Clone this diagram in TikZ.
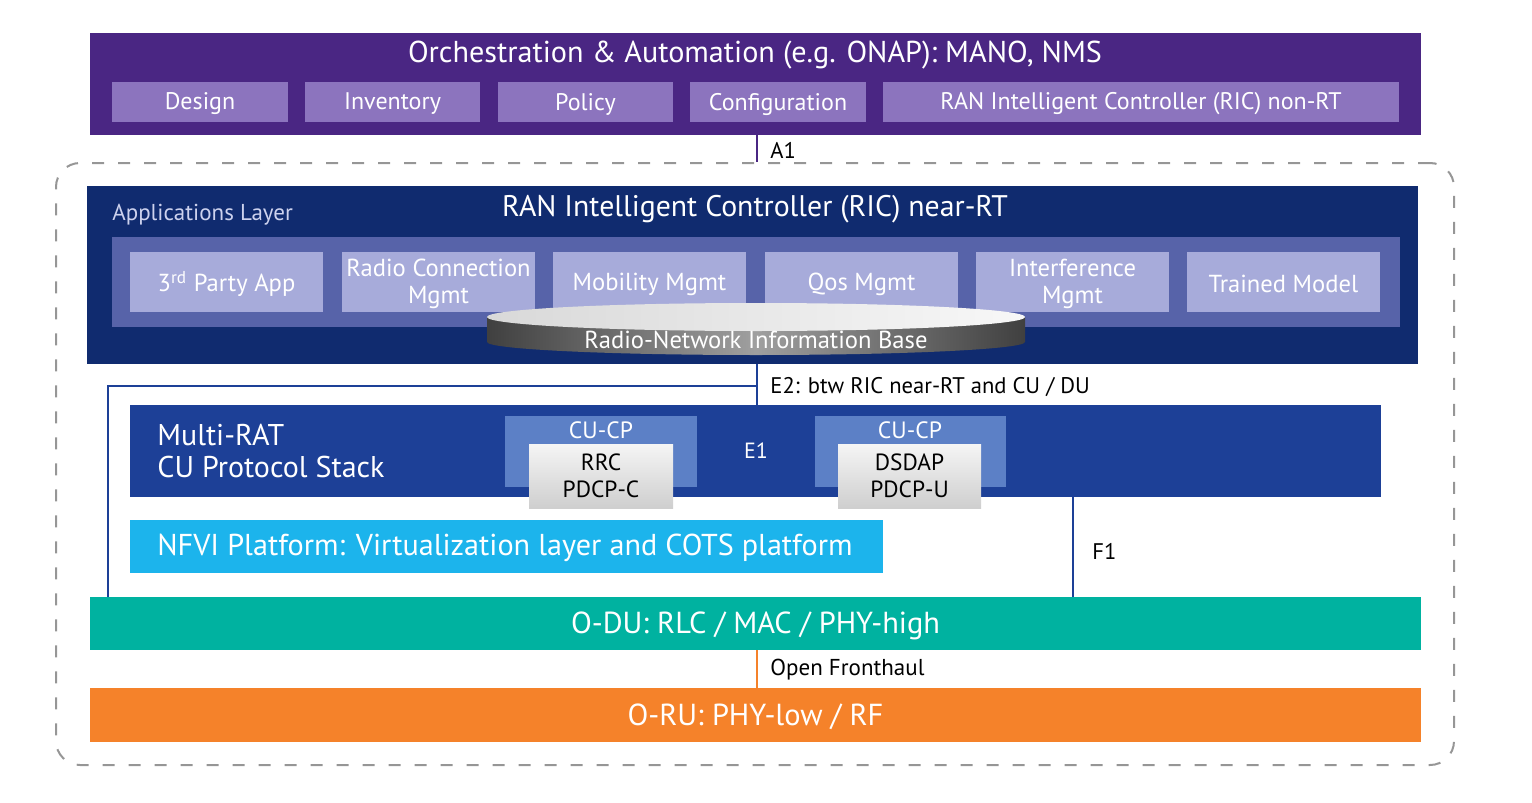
\documentclass[tikz,border=0pt]{standalone}
\usepackage{fontspec}
\setmainfont{PT Sans}
\usepackage{tikz}
\usetikzlibrary{fit,calc}
\definecolor{orchpurple}{RGB}{74,38,131}
\definecolor{orchlight}{RGB}{140,116,190}
\definecolor{ricnavy}{RGB}{16,43,111}
\definecolor{appband}{RGB}{87,99,169}
\definecolor{applight}{RGB}{167,171,218}
\definecolor{appltext}{RGB}{205,210,238}
\definecolor{cublue}{RGB}{29,64,151}
\definecolor{cucpblue}{RGB}{92,128,198}
\definecolor{nfvicyan}{RGB}{28,180,236}
\definecolor{duteal}{RGB}{0,178,160}
\definecolor{ruorange}{RGB}{245,130,42}
\definecolor{dashgray}{RGB}{150,150,150}
\newcommand{\fsz}[1]{\fontsize{#1}{#1}\selectfont}

\begin{document}
\begin{tikzpicture}[x=0.5pt,y=-0.5pt,
  blk/.style={inner sep=0pt, outer sep=0pt},
  txt/.style={inner sep=0pt, text=white, align=center},
  orchitem/.style={blk, fill=orchlight},
  orchtxt/.style={txt, font=\fsz{12}, yshift=-1pt},
  appitem/.style={blk, fill=applight},
  apptxt/.style={txt, font=\fsz{12.3}, yshift=-1pt},
  cucp/.style={blk, fill=cucpblue},
  protobox/.style={blk, top color=gray!8, bottom color=gray!38},
  prototxt/.style={txt, text=black, font=\fsz{11.7}},
  bigtxt/.style={txt, font=\fsz{15.2}, yshift=-1pt},
  ifline/.style={line width=1.3pt},
  iflabel/.style={inner sep=0pt, anchor=west, font=\fsz{11.3}}]
\useasboundingbox (0,0) rectangle (1532,803);

\coordinate (midx) at (757,0);
\coordinate (e2x) at (108,0);
\coordinate (f1x) at (1073,0);

\node[blk, fill=orchpurple, fit={(90,33) (1421,135)}] (orch) {};
\node[txt, font=\fsz{15.1}] (orchtitle) at (755,55) {Orchestration \& Automation (e.g. ONAP): MANO, NMS};
\node[orchitem, fit={(112,82) (288,122)}, label={[orchtxt]center:Design}] (design) {};
\node[orchitem, fit={(305,82) (480,122)}, label={[orchtxt]center:Inventory}] (inventory) {};
\node[orchitem, fit={(498,82) (673,122)}, label={[orchtxt]center:Policy}] (policy) {};
\node[orchitem, fit={(690,82) (866,122)}, label={[orchtxt]center:Configuration}] (config) {};
\node[orchitem, fit={(883,82) (1399,122)}, label={[orchtxt]center:RAN Intelligent Controller (RIC) non-RT}] (nonrt) {};

\node[draw=dashgray, line width=1pt, dash pattern=on 6pt off 7pt, rounded corners=12pt, inner sep=0pt, fit={(56,163) (1454,765)}] (oran) {};

\draw[orchpurple, ifline] (orch.south -| midx) -- (oran.north -| midx);
\node[iflabel] (a1) at (770,150) {A1};

\node[blk, fill=ricnavy, fit={(87,186) (1418,364)}] (ric) {};
\node[txt, font=\fsz{14.9}] (rictitle) at (755,209) {RAN Intelligent Controller (RIC) near-RT};
\node[inner sep=0pt, anchor=west, text=appltext, font=\fsz{11.5}] (applayer) at (112,215) {Applications Layer};
\node[blk, fill=appband, fit={(112,237) (1400,327)}] (band) {};
\node[appitem, fit={(130,252) (323,312)}, label={[apptxt]center:3\textsuperscript{rd} Party App}] (party) {};
\node[appitem, fit={(342,252) (535,312)}, label={[apptxt]center:Radio Connection\\[1pt]Mgmt}] (rcm) {};
\node[appitem, fit={(553,252) (746,312)}, label={[apptxt]center:Mobility Mgmt}] (mobility) {};
\node[appitem, fit={(765,252) (958,312)}, label={[apptxt]center:Qos Mgmt}] (qos) {};
\node[appitem, fit={(976,252) (1169,312)}, label={[apptxt]center:Interference\\[1pt]Mgmt}] (interf) {};
\node[appitem, fit={(1187,252) (1380,312)}, label={[apptxt]center:Trained Model}] (trained) {};

\shade[left color=gray!50!black, right color=gray!50!black, middle color=gray!75] (487,317) -- (487,342) arc[start angle=180, end angle=360, x radius=134.5pt, y radius=6.5pt] -- (1025,317) -- cycle;
\shade[left color=gray!30, right color=gray!6] (756,317) ellipse [x radius=134.5pt, y radius=7pt];
\node[txt, font=\fsz{12.3}] (rnib) at (756,340) {Radio-Network Information Base};

\node[blk, fill=cublue, fit={(130,405) (1381,497)}] (cu) {};
\node[inner sep=0pt, anchor=west, text=white, align=left, font=\fsz{15}] (cutitle) at (157,451) {Multi-RAT\\[1pt]CU Protocol Stack};
\node[cucp, fit={(505,416) (697,487)}] (cucpa) {};
\node[txt, font=\fsz{11.8}] (cucpalab) at (601,430) {CU-CP};
\node[protobox, fit={(529,444) (673,508)}, label={[prototxt]center:RRC\\[2pt]PDCP-C}] (rrc) {};
\node[cucp, fit={(815,416) (1006,487)}] (cucpb) {};
\node[txt, font=\fsz{11.8}] (cucpblab) at (910,430) {CU-CP};
\node[protobox, fit={(838,444) (981,508)}, label={[prototxt]center:DSDAP\\[2pt]PDCP-U}] (sdap) {};
\node[txt, font=\fsz{11}] (e1) at (756,451) {E1};

\node[blk, fill=nfvicyan, fit={(130,520) (883,573)}] (nfvi) {};
\node[inner sep=0pt, anchor=west, text=white, font=\fsz{15.1}] (nfvilab) at (157,548) {NFVI Platform: Virtualization layer and COTS platform};

\node[blk, fill=duteal, fit={(90,597) (1421,650)}, label={[bigtxt]center:O-DU: RLC / MAC / PHY-high}] (odu) {};
\node[blk, fill=ruorange, fit={(90,688) (1421,742)}, label={[bigtxt]center:O-RU: PHY-low / RF}] (oru) {};

\draw[cublue, ifline] (ric.south -| midx) -- (cu.north -| midx);
\draw[cublue, ifline] (midx |- 0,386) -| (odu.north -| e2x);
\node[iflabel] (e2) at (770,387) {E2: btw RIC near-RT and CU / DU};
\draw[cublue, ifline] (cu.south -| f1x) -- (odu.north -| f1x);
\node[iflabel] (f1) at (1092,551) {F1};
\draw[ruorange, ifline] (odu.south -| midx) -- (oru.north -| midx);
\node[iflabel, font=\fsz{11.5}] (fronthaul) at (770,670) {Open Fronthaul};
\end{tikzpicture}
\end{document}
